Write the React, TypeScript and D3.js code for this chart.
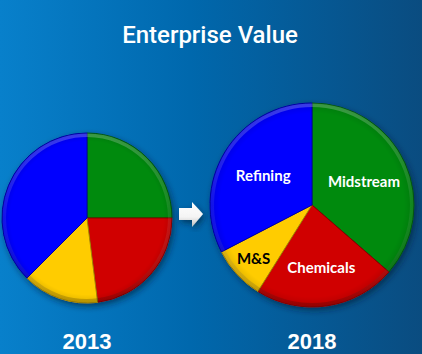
import React from "react";
import * as d3 from "d3";

const categories = ["Midstream", "Chemicals", "M&S", "Refining"];
const values2013 = [25, 23, 14.5, 37.5];
const values2018 = [36.4, 22.5, 8.5, 32.6];
const years = ["2013", "2018"];
const title = "Enterprise Value";
const colors = ["#008a0c", "#d00000", "#ffcc00", "#0000ff"];
const labelColors = ["#ffffff", "#ffffff", "#000000", "#ffffff"];
const labelRadius = [0.56, 0.62, 0.78, 0.56];

const W = 422;
const H = 354;

function Pie({ values, cx, cy, r, labels, idp }: { values: number[]; cx: number; cy: number; r: number; labels: boolean; idp: string }) {
  const pie = d3.pie<number>().sort(null).value((d) => d);
  const arcs = pie(values);
  const arc = d3.arc<d3.PieArcDatum<number>>().innerRadius(0).outerRadius(r);
  const rim = d3.arc<d3.PieArcDatum<number>>().innerRadius(r - 4).outerRadius(r - 0.5);
  return (
    <g transform={`translate(${cx},${cy})`}>
      <g filter="url(#shadow)">
        {arcs.map((a, i) => (
          <path key={i} d={arc(a) || ""} fill={colors[i]} stroke={d3.color(colors[i])!.darker(1.2).toString()} strokeWidth={1} />
        ))}
      </g>
      {arcs.map((a, i) => (
        <path key={"r" + i} d={rim(a) || ""} fill={`url(#rim${idp})`} />
      ))}
      <circle r={r} fill={`url(#shade${idp})`} />
      {labels &&
        arcs.map((a, i) => {
          const la = d3.arc<d3.PieArcDatum<number>>().innerRadius(r * labelRadius[i]).outerRadius(r * labelRadius[i]);
          const [x, y] = la.centroid(a);
          return (
            <text key={"t" + i} x={x} y={y} dy="0.35em" textAnchor="middle" fill={labelColors[i]}
              fontFamily="Lato, 'Open Sans', sans-serif" fontWeight={700} fontSize={15}>
              {categories[i]}
            </text>
          );
        })}
    </g>
  );
}

export default function App() {
  const pies = [
    { values: values2013, cx: 87, cy: 218, r: 85, labels: false },
    { values: values2018, cx: 312, cy: 205, r: 102, labels: true },
  ];
  return (
    <svg width={W} height={H} style={{ position: "absolute", left: 0, top: 0 }}>
      <defs>
        <linearGradient id="bg" x1="0" y1="0" x2="1" y2="0">
          <stop offset="0" stopColor="#0880cb" />
          <stop offset="0.45" stopColor="#0068ad" />
          <stop offset="1" stopColor="#0a4c80" />
        </linearGradient>
        <filter id="shadow" x="-20%" y="-20%" width="140%" height="140%">
          <feDropShadow dx="2" dy="3" stdDeviation="3" floodColor="#001a33" floodOpacity="0.6" />
        </filter>
        {pies.map((p, k) => (
          <React.Fragment key={k}>
            <linearGradient id={`rim${k}`} x1="0" y1="0" x2="0" y2="1" gradientUnits="userSpaceOnUse"
              gradientTransform={`translate(0,${-p.r}) scale(1,${2 * p.r})`}>
              <stop offset="0" stopColor="#ffffff" stopOpacity="0.25" />
              <stop offset="0.5" stopColor="#ffffff" stopOpacity="0.08" />
              <stop offset="1" stopColor="#000000" stopOpacity="0.2" />
            </linearGradient>
            <radialGradient id={`shade${k}`} cx="0.5" cy="0.5" r="0.5">
              <stop offset="0.9" stopColor="#000" stopOpacity="0" />
              <stop offset="1" stopColor="#000" stopOpacity="0.12" />
            </radialGradient>
          </React.Fragment>
        ))}
        <linearGradient id="arrowG" x1="0" y1="0" x2="0" y2="1">
          <stop offset="0" stopColor="#ffffff" />
          <stop offset="0.6" stopColor="#f4f4f4" />
          <stop offset="1" stopColor="#bdbdbd" />
        </linearGradient>
      </defs>
      <rect width={W} height={H} fill="url(#bg)" />
      <text x={210} y={43} textAnchor="middle" fill="#ffffff" fontFamily="Roboto, 'Liberation Sans', sans-serif" fontWeight={500} fontSize={24}>
        {title}
      </text>
      {pies.map((p, k) => (
        <Pie key={k} idp={String(k)} values={p.values} cx={p.cx} cy={p.cy} r={p.r} labels={p.labels} />
      ))}
      <path d="M179,208 L192,208 L192,202 L203,214 L192,227 L192,220 L179,220 Z" fill="url(#arrowG)" filter="url(#shadow)" />
      {years.map((y, k) => (
        <text key={y} x={pies[k].cx} y={349} textAnchor="middle" fill="#ffffff" fontFamily="'Liberation Sans', Arial, sans-serif" fontWeight={700} fontSize={22}>
          {y}
        </text>
      ))}
    </svg>
  );
}
